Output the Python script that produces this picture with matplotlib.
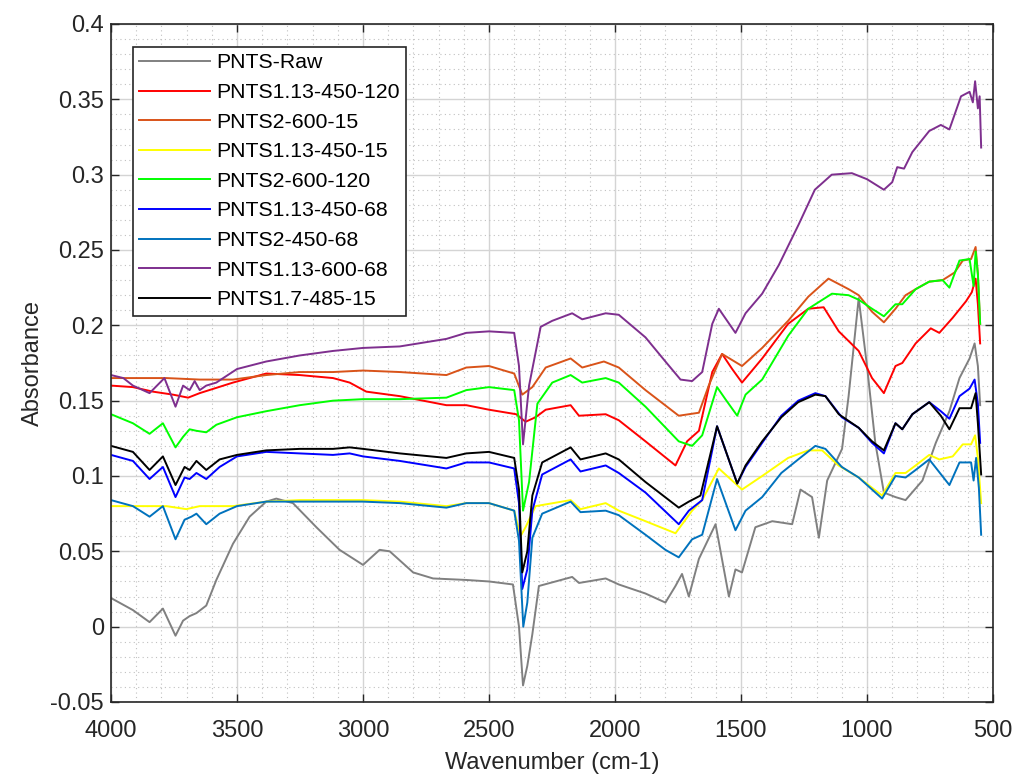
import numpy as np
import matplotlib.pyplot as plt
from matplotlib.ticker import MultipleLocator

raw_wn = [4000, 3913, 3847, 3794, 3744, 3714, 3688, 3661, 3622, 3582, 3516, 3450, 3384, 3344, 3278,
          3185, 3093, 3000, 2934, 2894, 2801, 2722, 2590, 2500, 2405, 2381, 2365, 2348, 2328, 2302,
          2170, 2143, 2037, 1985, 1879, 1800, 1760, 1734, 1707, 1667, 1601, 1548, 1522, 1496, 1443,
          1376, 1297, 1264, 1218, 1191, 1158, 1099, 1073, 1033, 1000, 967, 933, 887, 847, 780, 727,
          673, 633, 593, 573, 560, 551]
raw_abs = [0.019, 0.011, 0.003, 0.012, -0.006, 0.004, 0.007, 0.009, 0.014, 0.031, 0.055, 0.073, 0.083,
           0.085, 0.082, 0.066, 0.051, 0.041, 0.051, 0.050, 0.036, 0.032, 0.031, 0.030, 0.028, 0.000,
           -0.039, -0.026, -0.005, 0.027, 0.033, 0.029, 0.032, 0.028, 0.022, 0.016, 0.027, 0.035,
           0.020, 0.045, 0.068, 0.020, 0.038, 0.036, 0.066, 0.070, 0.068, 0.091, 0.086, 0.059, 0.097,
           0.118, 0.153, 0.218, 0.173, 0.122, 0.089, 0.086, 0.084, 0.097, 0.122, 0.143, 0.165, 0.178,
           0.188, 0.173, 0.147]

red_wn = [4000, 3913, 3834, 3754, 3694, 3648, 3516, 3384, 3251, 3119, 3053, 2987, 2854, 2669, 2590,
          2500, 2392, 2355, 2315, 2275, 2176, 2143, 2037, 1985, 1879, 1760, 1714, 1667, 1614, 1575,
          1535, 1496, 1416, 1313, 1233, 1172, 1112, 1033, 980, 933, 887, 860, 807, 747, 713, 660,
          607, 584, 569, 560, 551]
red_abs = [0.160, 0.159, 0.156, 0.154, 0.152, 0.155, 0.162, 0.168, 0.167, 0.165, 0.162, 0.156, 0.153,
           0.147, 0.147, 0.144, 0.141, 0.136, 0.139, 0.144, 0.147, 0.140, 0.141, 0.137, 0.123, 0.107,
           0.123, 0.130, 0.169, 0.181, 0.171, 0.162, 0.178, 0.201, 0.211, 0.212, 0.196, 0.183, 0.165,
           0.155, 0.173, 0.175, 0.188, 0.198, 0.195, 0.205, 0.216, 0.222, 0.231, 0.214, 0.188]

orange_wn = [4000, 3913, 3780, 3648, 3516, 3384, 3251, 3119, 3000, 2854, 2669, 2590, 2500, 2400,
             2368, 2328, 2275, 2176, 2130, 2044, 1985, 1879, 1747, 1667, 1628, 1575, 1496, 1416,
             1313, 1233, 1153, 1073, 1033, 980, 933, 887, 847, 807, 753, 700, 653, 620, 587, 569,
             560, 551]
orange_abs = [0.165, 0.165, 0.165, 0.164, 0.164, 0.167, 0.169, 0.169, 0.170, 0.169, 0.167, 0.172,
              0.173, 0.168, 0.154, 0.159, 0.172, 0.178, 0.172, 0.176, 0.172, 0.157, 0.140, 0.142,
              0.160, 0.181, 0.173, 0.185, 0.203, 0.219, 0.231, 0.224, 0.220, 0.209, 0.202, 0.211,
              0.220, 0.224, 0.229, 0.230, 0.235, 0.243, 0.244, 0.252, 0.234, 0.201]

yellow_wn = [4000, 3913, 3780, 3701, 3648, 3516, 3384, 3251, 3119, 3000, 2854, 2669, 2590, 2500,
             2400, 2375, 2355, 2315, 2176, 2137, 2037, 1985, 1879, 1760, 1694, 1654, 1588, 1496,
             1416, 1313, 1233, 1178, 1113, 1033, 940, 887, 847, 807, 753, 713, 660, 620, 587, 571,
             560, 547]
yellow_abs = [0.080, 0.080, 0.080, 0.078, 0.080, 0.080, 0.083, 0.084, 0.084, 0.084, 0.083, 0.080,
              0.082, 0.082, 0.077, 0.060, 0.066, 0.080, 0.084, 0.078, 0.082, 0.077, 0.070, 0.062,
              0.077, 0.084, 0.105, 0.091, 0.100, 0.112, 0.117, 0.117, 0.107, 0.099, 0.087, 0.102,
              0.102, 0.107, 0.114, 0.111, 0.113, 0.121, 0.121, 0.127, 0.112, 0.082]

green_wn = [4000, 3913, 3847, 3794, 3744, 3714, 3688, 3661, 3622, 3582, 3500, 3384, 3251, 3119,
            3000, 2854, 2669, 2590, 2500, 2400, 2381, 2365, 2341, 2308, 2249, 2176, 2130, 2037,
            1985, 1879, 1747, 1694, 1654, 1595, 1562, 1515, 1482, 1416, 1313, 1233, 1139, 1073,
            1033, 980, 933, 887, 860, 807, 753, 700, 673, 633, 593, 577, 569, 560, 551]
green_abs = [0.141, 0.135, 0.128, 0.135, 0.119, 0.126, 0.131, 0.130, 0.129, 0.134, 0.139, 0.143,
             0.147, 0.150, 0.151, 0.151, 0.152, 0.157, 0.159, 0.157, 0.137, 0.077, 0.096, 0.148,
             0.162, 0.167, 0.162, 0.165, 0.162, 0.146, 0.123, 0.120, 0.127, 0.159, 0.151, 0.140,
             0.154, 0.164, 0.193, 0.211, 0.221, 0.220, 0.217, 0.211, 0.206, 0.214, 0.214, 0.224,
             0.229, 0.230, 0.225, 0.243, 0.244, 0.226, 0.249, 0.234, 0.201]

blue_wn = [4000, 3913, 3847, 3794, 3744, 3708, 3688, 3661, 3622, 3569, 3500, 3384, 3251, 3119,
           3053, 3000, 2854, 2669, 2590, 2500, 2400, 2381, 2368, 2348, 2328, 2289, 2176, 2137,
           2037, 1985, 1879, 1747, 1707, 1654, 1595, 1515, 1482, 1416, 1340, 1273, 1205, 1165,
           1100, 1033, 980, 933, 887, 860, 820, 753, 707, 673, 633, 593, 573, 560, 551]
blue_abs = [0.114, 0.110, 0.098, 0.106, 0.086, 0.099, 0.098, 0.102, 0.098, 0.106, 0.113, 0.116,
            0.115, 0.114, 0.115, 0.113, 0.110, 0.105, 0.109, 0.109, 0.105, 0.082, 0.025, 0.038,
            0.077, 0.101, 0.111, 0.103, 0.107, 0.102, 0.089, 0.068, 0.077, 0.084, 0.133, 0.095,
            0.106, 0.122, 0.140, 0.150, 0.155, 0.153, 0.139, 0.132, 0.122, 0.115, 0.135, 0.131,
            0.141, 0.149, 0.143, 0.138, 0.153, 0.158, 0.164, 0.148, 0.122]

steel_wn = [4000, 3913, 3847, 3794, 3744, 3708, 3681, 3661, 3622, 3569, 3500, 3384, 3251, 3119,
            3000, 2854, 2669, 2590, 2500, 2400, 2381, 2364, 2348, 2328, 2289, 2176, 2137, 2037,
            1985, 1879, 1800, 1747, 1694, 1654, 1595, 1522, 1482, 1416, 1340, 1273, 1205, 1165,
            1100, 1033, 940, 887, 847, 807, 753, 673, 633, 587, 577, 567, 556, 547]
steel_abs = [0.084, 0.080, 0.073, 0.080, 0.058, 0.071, 0.073, 0.075, 0.068, 0.075, 0.080, 0.083,
             0.083, 0.083, 0.083, 0.082, 0.079, 0.082, 0.082, 0.077, 0.057, 0.000, 0.016, 0.059,
             0.075, 0.083, 0.076, 0.077, 0.074, 0.061, 0.051, 0.046, 0.058, 0.061, 0.098, 0.064,
             0.077, 0.086, 0.102, 0.111, 0.120, 0.118, 0.106, 0.099, 0.085, 0.100, 0.099, 0.104,
             0.111, 0.094, 0.109, 0.109, 0.097, 0.112, 0.092, 0.061]

purple_wn = [4000, 3951, 3913, 3847, 3788, 3744, 3714, 3688, 3668, 3648, 3622, 3582, 3500, 3384,
             3251, 3119, 3000, 2854, 2669, 2590, 2500, 2400, 2381, 2365, 2341, 2295, 2249, 2170,
             2130, 2037, 1985, 1879, 1800, 1740, 1694, 1654, 1614, 1588, 1522, 1482, 1416, 1350,
             1271, 1207, 1140, 1060, 1000, 933, 900, 880, 853, 820, 753, 707, 673, 627, 593, 580,
             571, 560, 553, 547]
purple_abs = [0.167, 0.165, 0.160, 0.155, 0.165, 0.146, 0.160, 0.157, 0.163, 0.157, 0.160, 0.162,
              0.171, 0.176, 0.180, 0.183, 0.185, 0.186, 0.191, 0.195, 0.196, 0.195, 0.173, 0.121,
              0.160, 0.199, 0.203, 0.208, 0.204, 0.208, 0.207, 0.192, 0.176, 0.164, 0.163, 0.169,
              0.201, 0.211, 0.195, 0.208, 0.221, 0.240, 0.267, 0.290, 0.300, 0.301, 0.297, 0.290,
              0.295, 0.305, 0.304, 0.315, 0.329, 0.333, 0.330, 0.352, 0.355, 0.348, 0.362, 0.344,
              0.352, 0.318]

black_wn = [4000, 3913, 3847, 3794, 3744, 3708, 3688, 3661, 3622, 3569, 3500, 3384, 3251, 3119,
            3053, 3000, 2854, 2669, 2590, 2500, 2400, 2381, 2368, 2348, 2328, 2289, 2176, 2137,
            2037, 1985, 1879, 1747, 1707, 1661, 1595, 1515, 1482, 1416, 1340, 1273, 1205, 1165,
            1112, 1033, 980, 933, 887, 860, 820, 753, 707, 673, 633, 587, 569, 560, 547]
black_abs = [0.120, 0.116, 0.104, 0.113, 0.094, 0.106, 0.104, 0.110, 0.104, 0.111, 0.114, 0.117,
             0.118, 0.118, 0.119, 0.118, 0.115, 0.112, 0.115, 0.116, 0.112, 0.091, 0.036, 0.050,
             0.087, 0.109, 0.119, 0.111, 0.115, 0.111, 0.096, 0.079, 0.083, 0.087, 0.133, 0.095,
             0.107, 0.123, 0.139, 0.149, 0.154, 0.153, 0.141, 0.132, 0.123, 0.117, 0.135, 0.131,
             0.141, 0.149, 0.140, 0.131, 0.145, 0.145, 0.155, 0.135, 0.101]

series = [
    ("PNTS-Raw", raw_wn, raw_abs, "#808080"),
    ("PNTS1.13-450-120", red_wn, red_abs, "#ff0000"),
    ("PNTS2-600-15", orange_wn, orange_abs, "#d95319"),
    ("PNTS1.13-450-15", yellow_wn, yellow_abs, "#ffff00"),
    ("PNTS2-600-120", green_wn, green_abs, "#00ff00"),
    ("PNTS1.13-450-68", blue_wn, blue_abs, "#0000ff"),
    ("PNTS2-450-68", steel_wn, steel_abs, "#0072bd"),
    ("PNTS1.13-600-68", purple_wn, purple_abs, "#7e2f8e"),
    ("PNTS1.7-485-15", black_wn, black_abs, "#000000"),
]

plt.rcParams['font.family'] = ['Liberation Sans', 'DejaVu Sans']

fig = plt.figure(figsize=(10.16, 7.74), dpi=100)
ax = fig.add_axes([111 / 1016, 1 - 702 / 774, 882 / 1016, 678 / 774])

for name, wn, ab, col in series:
    ax.plot(wn, ab, color=col, lw=1.4, label=name)

ax.set_xlim(4000, 500)
ax.set_ylim(-0.05, 0.4)
ax.xaxis.set_major_locator(MultipleLocator(500))
ax.xaxis.set_minor_locator(MultipleLocator(100))
ax.yaxis.set_major_locator(MultipleLocator(0.05))
ax.yaxis.set_minor_locator(MultipleLocator(0.01))
ax.grid(which='major', color='#d4d4d4', lw=1.0, ls='-')
ax.grid(which='minor', color='#c0c0c0', lw=0.8, ls=(0, (1, 3)))
ax.set_axisbelow(True)

ax.tick_params(which='major', direction='in', length=6, width=1, top=True, right=True,
               labelsize=17, colors='#262626')
ax.tick_params(axis='x', which='major', pad=13)
ax.tick_params(axis='y', which='major', pad=5)
ax.tick_params(which='minor', length=0)
ax.yaxis.set_major_formatter(plt.FuncFormatter(lambda v, p: f"{v:g}"))
for s in ax.spines.values():
    s.set_color('#262626')
    s.set_linewidth(1.2)

ax.set_xlabel("Wavenumber (cm-1)", fontsize=17, color='#262626', labelpad=7)
ax.set_ylabel("Absorbance", fontsize=17, color='#262626', labelpad=5)

leg = ax.legend(loc='upper left', bbox_to_anchor=(22 / 882, 1 - 23 / 678), borderaxespad=0,
                fontsize=15.3, frameon=True, fancybox=False, handlelength=3.3,
                handletextpad=0.3, borderpad=0.3, labelspacing=0.5)
leg.get_frame().set_edgecolor('#262626')
leg.get_frame().set_linewidth(1.2)
leg.get_frame().set_alpha(1)

fig.savefig("out.png", dpi=100)
